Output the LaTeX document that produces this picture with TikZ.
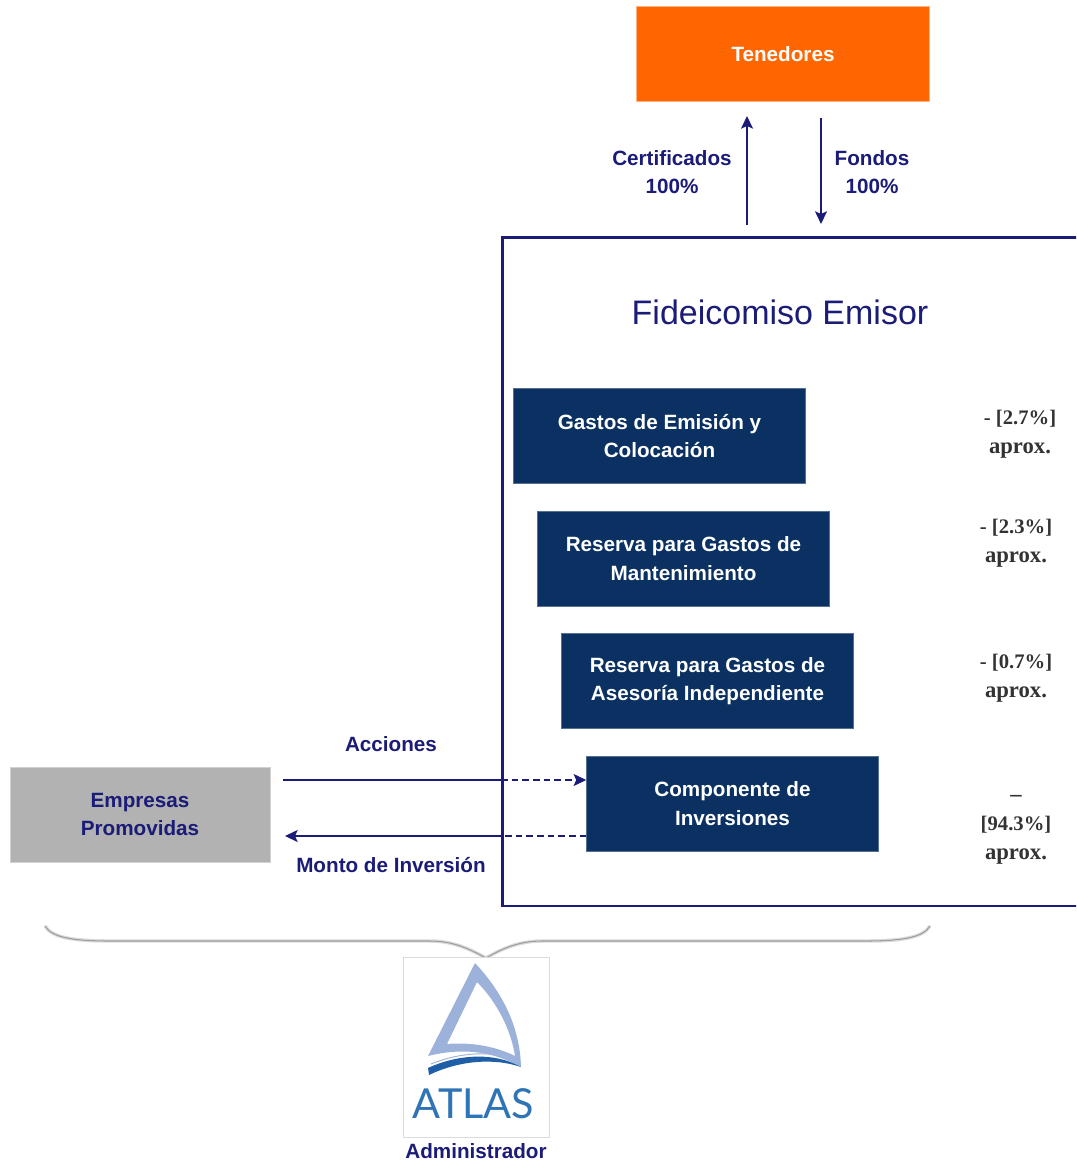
\documentclass[tikz,border=0pt]{standalone}
\usepackage{fontspec}
\setmainfont{Liberation Sans}
\newfontfamily\pctfont{Liberation Serif}
\newfontfamily\logofont{Lato}
\definecolor{navy}{HTML}{1B1B78}
\definecolor{boxblue}{HTML}{0B3163}
\definecolor{orangebox}{HTML}{FF6600}
\definecolor{greybox}{HTML}{B2B2B2}
\definecolor{sail}{HTML}{9DB2DA}
\definecolor{swoosh}{HTML}{1F5FA8}
\definecolor{logotext}{HTML}{2F74B5}
\definecolor{pct}{HTML}{333333}
\newcommand{\pctnum}{\fontsize{15.5}{21.5}\selectfont}
\tikzset{
  x=0.75pt,y=-0.75pt,
  lbl/.style={font=\fontsize{15.5}{21.5}\selectfont\bfseries,text=navy,align=center,inner sep=0pt},
  inbox/.style={fill=boxblue,draw=boxblue!70!white,line width=0.4pt,minimum width=219pt,minimum height=71pt,inner sep=0pt,text=white,align=center,font=\fontsize{15.5}{21.5}\selectfont\bfseries},
  pctlbl/.style={font=\pctfont\fontsize{17}{21.5}\selectfont\bfseries,text=pct,align=center,inner sep=0pt},
  flow/.style={draw=navy,line width=1.1pt},
  flowd/.style={draw=navy,line width=1.1pt,dash pattern=on 5pt off 3pt},
  tip/.style={-{Stealth[length=9.5pt,width=9pt,inset=2pt]}}
}
\usetikzlibrary{arrows.meta}
\begin{document}
\begin{tikzpicture}
\useasboundingbox (0,0) rectangle (1076,1162);
\clip (0,0) rectangle (1076,1162);
% main frame
\node[draw=navy,line width=1.9pt,minimum width=436pt,minimum height=501pt,inner sep=0pt,anchor=north west] (frame) at (501,236.5) {};
% top box
\node[fill=orangebox,draw=orangebox!50!white,line width=0.4pt,minimum width=219.5pt,minimum height=71pt,inner sep=0pt,text=white,font=\fontsize{15.5}{20}\selectfont\bfseries] (tenedores) at (783,54) {Tenedores};
% arrows top
\coordinate (c1) at (747,225);
\coordinate (c2) at (747,116);
\coordinate (f1) at (821,118);
\coordinate (f2) at (821,224);
\draw[flow,tip] (c1) -- (c2);
\draw[flow,tip] (f1) -- (f2);
\node[lbl] (certlbl) at (672,172) {Certificados\\100\%};
\node[lbl] (fondlbl) at (872,172) {Fondos\\100\%};
% title
\node[text=navy,font=\fontsize{25.5}{30}\selectfont,inner sep=0pt] (title) at (780,312) {Fideicomiso Emisor};
% boxes
\node[inbox] (b1) at (659.5,436) {Gastos de Emisión y\\Colocación};
\node[inbox] (b2) at (683.5,558.5) {Reserva para Gastos de\\Mantenimiento};
\node[inbox] (b3) at (707.5,681) {Reserva para Gastos de\\Asesoría Independiente};
\node[inbox] (b4) at (732.5,803.5) {Componente de\\Inversiones};
% percentages
\node[pctlbl] (p1) at (1020,434) {{\pctnum - [2.7\%]}\\aprox.};
\node[pctlbl] (p2) at (1016,543) {{\pctnum - [2.3\%]}\\aprox.};
\node[pctlbl] (p3) at (1016,678) {{\pctnum - [0.7\%]}\\aprox.};
\node[pctlbl] (p4) at (1016,830) {–\\{\pctnum [94.3\%]}\\aprox.};
% promovidas
\node[fill=greybox,draw=greybox!60!white,line width=0.4pt,minimum width=195pt,minimum height=71pt,inner sep=0pt,text=navy,align=center,font=\fontsize{15.5}{21.5}\selectfont\bfseries] (emp) at (140,814.5) {Empresas\\Promovidas};
% flows
\coordinate (a0) at (283,780);
\coordinate (a1) at (frame.west |- a0);
\coordinate (a2) at (b4.west |- a0);
\coordinate (m0) at (285,836);
\coordinate (m1) at (frame.west |- m0);
\coordinate (m2) at (b4.west |- m0);
\draw[flow] (a0) -- (a1);
\draw[flowd,tip] (a1) -- (a2);
\draw[flow,tip] (m1) -- (m0);
\draw[flowd] (m2) -- (m1);
\node[lbl] (acc) at (391,744) {Acciones};
\node[lbl] (monto) at (391,865) {Monto de Inversión};
% brace
\coordinate (br1) at (45,926);
\coordinate (brm) at (486,958);
\coordinate (br2) at (930,926);
\foreach \c/\w in {black!14/2.6pt,black!38/0.8pt}{
\draw[draw=\c,line width=\w,line join=round]
  (br1) .. controls (52,938) and (75,941) .. (110,941)
  -- (430,941) .. controls (452,941) and (468,948) .. (brm)
  .. controls (503,948) and (520,941) .. (542,941)
  -- (865,941) .. controls (900,941) and (923,938) .. (br2);
}
% logo
\node[draw=black!14,fill=white,line width=0.6pt,minimum width=110pt,minimum height=135pt,inner sep=0pt] (logo) at (476.5,1047) {};
\fill[sail,even odd rule] (475,963) .. controls (505,995) and (520,1030) .. (521,1067)
  .. controls (490,1050) and (460,1048) .. (428,1056) -- cycle
  (477,982) -- (447,1044) .. controls (470,1042) and (495,1046) .. (515,1056)
  .. controls (511,1030) and (497,1002) .. (477,982) -- cycle;
\fill[swoosh] (428,1068) .. controls (458,1054) and (495,1052) .. (521,1067)
  .. controls (495,1058) and (460,1060) .. (429,1075) -- cycle;
\draw[sail,line width=0.7pt] (431,1064) .. controls (460,1052) and (495,1050) .. (518,1061);
\node[text=logotext,font=\logofont\fontsize{31}{31}\selectfont,inner sep=0pt] (atlas) at (473.5,1104) {ATLAS};
\node[lbl] (adm) at (476,1151) {Administrador};
\end{tikzpicture}
\end{document}
